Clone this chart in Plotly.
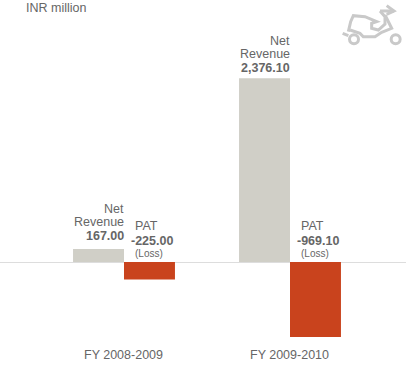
import plotly.graph_objects as go

periods = ["FY 2008-2009", "FY 2009-2010"]
net_revenue = [167.00, 2376.10]
pat = [-225.00, -969.10]
net_labels = ["167.00", "2,376.10"]
pat_labels = ["-225.00", "-969.10"]
unit_label = "INR million"

W, H = 406, 365
FONT = "Liberation Sans, Arial, sans-serif"
TXT = "#666666"

fig = go.Figure()
fig.add_bar(x=[0, 1], y=net_revenue, marker=dict(color="#d0cfc7", line=dict(width=0)), showlegend=False)
fig.add_bar(x=[0, 1], y=pat, marker=dict(color="#c9431d", line=dict(width=0)), showlegend=False)

ann = []
def px(x, y, text, size=12.5, anchor="left"):
    ann.append(dict(xref="paper", yref="paper", x=x / W, y=1 - y / H, text=text, showarrow=False,
                    xanchor=anchor, yanchor="middle", align=anchor, borderpad=0, borderwidth=0,
                    font=dict(family=FONT, size=size, color=TXT)))

px(26, 8, unit_label)
for i, (rx, y0) in enumerate([(124, 209), (290, 41)]):
    px(rx, y0, "Net", anchor="right")
    px(rx, y0 + 13, "Revenue", anchor="right")
    px(rx, y0 + 27, "<b>%s</b>" % net_labels[i], anchor="right")
for i, (lx, y0) in enumerate([(135, 226), (301, 226)]):
    px(lx, y0, "PAT")
    px(lx + 16.5, y0 + 14.5, "<b>%s</b>" % pat_labels[i], anchor="center")
    px(lx, y0 + 27, "(Loss)", size=10)
px(123, 355, periods[0], anchor="center")
px(289, 355, periods[1], anchor="center")

def pth(points):
    s = " ".join(("M" if i == 0 else "L") + " %.4f %.4f" % (x / W, 1 - y / H) for i, (x, y) in enumerate(points))
    return s

def z(points):
    return [(330 + a / 3, b / 3) for a, b in points]

icon_color = "#c9c9c9"
icon_paths = [
    z([(170, 17), (192, 33), (170, 43)]),
    z([(150, 33), (192, 33)]),
    z([(38, 100), (55, 107)]),
    z([(55, 95), (62, 65), (70, 47), (105, 50), (140, 65), (125, 70), (125, 85), (145, 90), (165, 72), (165, 50), (150, 33)]),
    z([(165, 45), (185, 85), (155, 97), (135, 110), (100, 110), (90, 100), (60, 90)]),
]
shapes = [dict(type="path", xref="paper", yref="paper", path=pth(p), line=dict(color=icon_color, width=3), layer="above") for p in icon_paths]
for cx, cy in z([(72, 118), (197, 118)]):
    r = 4.5
    shapes.append(dict(type="circle", xref="paper", yref="paper", x0=(cx - r) / W, x1=(cx + r) / W,
                       y0=1 - (cy + r) / H, y1=1 - (cy - r) / H, line=dict(color=icon_color, width=3)))

SCALE = 0.0773
fig.update_layout(
    width=W, height=H, margin=dict(l=0, r=0, t=0, b=0), autosize=False,
    paper_bgcolor="white", plot_bgcolor="white", barmode="group", bargap=0.386, bargroupgap=0,
    xaxis=dict(range=[-124 / 166, (W - 124) / 166], visible=False, fixedrange=True),
    yaxis=dict(range=[-103 / SCALE, 262 / SCALE], showgrid=False, showticklabels=False, ticks="",
               zeroline=True, zerolinecolor="#dddddd", zerolinewidth=1, fixedrange=True),
    annotations=ann, shapes=shapes,
)
fig.write_html("out.html", config=dict(displayModeBar=False),
               post_script="document.body.style.margin='0';document.documentElement.style.overflow='hidden';")
